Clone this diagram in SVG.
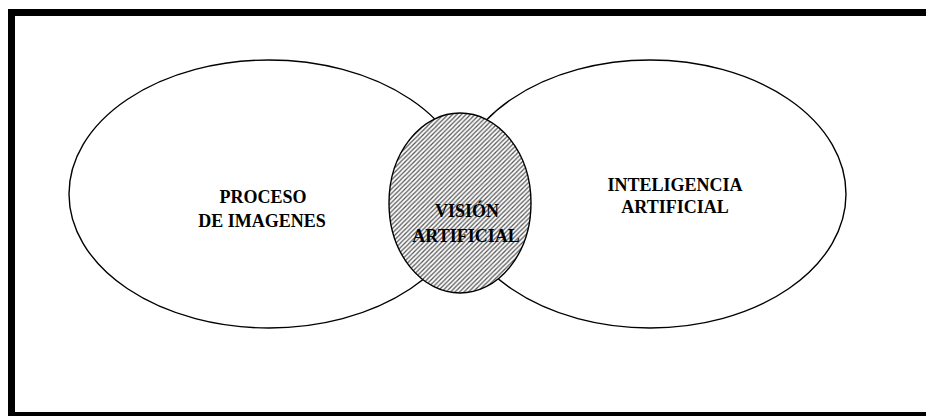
<svg xmlns="http://www.w3.org/2000/svg" width="926" height="416" viewBox="0 0 926 416">
  <style>
    .set { fill: none; stroke: #000; stroke-width: 1.4; }
    .label { font-family: "Liberation Serif", "Times New Roman", serif; font-weight: bold; font-size: 18px; fill: #000; text-anchor: middle; }
  </style>
  <defs>
    <!-- diagonal hatching for the intersection -->
    <pattern id="hatch" patternUnits="userSpaceOnUse" width="4.5" height="4.5">
      <rect width="4.5" height="4.5" fill="#fff"/>
      <path d="M-1,1 L1,-1 M0,4.5 L4.5,0 M3.5,5.5 L5.5,3.5" stroke="#555" stroke-width="1.25"/>
    </pattern>
  </defs>
  <rect width="926" height="416" fill="#fff"/>

  <!-- frame -->
  <g id="frame" fill="#000">
    <rect x="8" y="9" width="918" height="7"/>
    <rect x="8" y="9" width="7" height="407"/>
    <rect x="8" y="412" width="918" height="4"/>
  </g>

  <g id="proceso">
    <ellipse class="set" cx="269" cy="194" rx="200" ry="134"/>
    <text class="label" x="263" y="203">PROCESO</text>
    <text class="label" x="262" y="227">DE IMAGENES</text>
  </g>

  <g id="inteligencia">
    <ellipse class="set" cx="650" cy="194" rx="196" ry="134"/>
    <text class="label" x="675" y="191">INTELIGENCIA</text>
    <text class="label" x="675" y="213">ARTIFICIAL</text>
  </g>

  <g id="vision">
    <ellipse cx="460" cy="203" rx="71" ry="90" fill="url(#hatch)" stroke="#000" stroke-width="1.4"/>
    <text class="label" x="467" y="217">VISIÓN</text>
    <text class="label" x="466" y="242">ARTIFICIAL</text>
  </g>
</svg>
